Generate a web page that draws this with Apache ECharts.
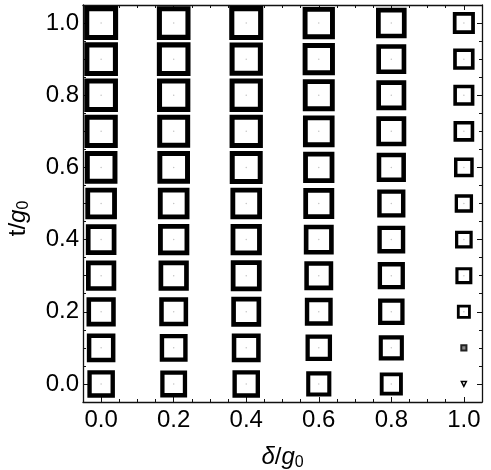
<!DOCTYPE html>
<html>
<head>
<meta charset="utf-8">
<script src="https://cdn.jsdelivr.net/npm/echarts@6/dist/echarts.min.js"></script>
<style>
html,body{margin:0;padding:0;background:#fff;}
#chart{width:491px;height:470px;}
</style>
</head>
<body>
<div id="chart"></div>
<script>
// ---- data ----
const deltaValues = [0.0, 0.2, 0.4, 0.6, 0.8, 1.0];
const tValues = [0.0, 0.1, 0.2, 0.3, 0.4, 0.5, 0.6, 0.7, 0.8, 0.9, 1.0];
const xTickLabels = [0.0, 0.2, 0.4, 0.6, 0.8, 1.0];
const yTickLabels = [0.0, 0.2, 0.4, 0.6, 0.8, 1.0];
// relative marker magnitude (largest = 1), listed for t = 0.0 ... 1.0
const magDelta00 = [0.81, 0.84, 0.86, 0.89, 0.90, 0.93, 0.96, 0.98, 0.99, 0.99, 1.00];
const magDelta02 = [0.79, 0.82, 0.85, 0.89, 0.92, 0.93, 0.96, 0.97, 0.98, 0.99, 0.99];
const magDelta04 = [0.81, 0.85, 0.88, 0.91, 0.92, 0.93, 0.97, 0.98, 0.98, 0.98, 1.00];
const magDelta06 = [0.74, 0.78, 0.82, 0.85, 0.88, 0.91, 0.92, 0.93, 0.94, 0.95, 0.95];
const magDelta08 = [0.68, 0.74, 0.78, 0.80, 0.82, 0.83, 0.86, 0.88, 0.88, 0.88, 0.90];
const magDelta10 = [0.19, 0.21, 0.41, 0.50, 0.52, 0.54, 0.58, 0.61, 0.62, 0.63, 0.65];
// marker kind at delta = 1.0 (others are all open squares)
const kindDelta10 = ['triangle', 'filled', 'square', 'square', 'square', 'square', 'square', 'square', 'square', 'square', 'square'];

// ---- build ----
const magColumns = [magDelta00, magDelta02, magDelta04, magDelta06, magDelta08, magDelta10];
const MAX_PX = 34;
const markers = [];
const dots = [];
deltaValues.forEach((d, i) => {
  tValues.forEach((t, j) => {
    const outer = magColumns[i][j] * MAX_PX;
    const kind = (i === deltaValues.length - 1) ? kindDelta10[j] : 'square';
    dots.push([d, t]);
    if (kind === 'triangle') {
      markers.push({ value: [d, t], symbol: 'triangle', symbolRotate: 180, symbolSize: outer - 1.5,
        itemStyle: { color: '#fff', borderColor: '#000', borderWidth: 1.5, opacity: 1 } });
    } else if (kind === 'filled') {
      markers.push({ value: [d, t], symbol: 'rect', symbolSize: outer - 2,
        itemStyle: { color: '#8a8a8a', borderColor: '#222', borderWidth: 2, opacity: 1 } });
    } else {
      const bw = 1.2 + 0.115 * outer;
      markers.push({ value: [d, t], symbol: 'rect', symbolSize: outer - bw,
        itemStyle: { color: 'rgba(0,0,0,0)', borderColor: '#000', borderWidth: bw, opacity: 1 } });
    }
  });
});

const FONT = 'Liberation Sans, Arial, sans-serif';
const AX = '#111';
const MIN = -0.05, MAX = 1.05;

function mainAxis(pos, labels, extra) {
  return Object.assign({
    type: 'value', position: pos, min: MIN, max: MAX, interval: 0.05,
    axisLine: { show: true, onZero: false, lineStyle: { color: AX, width: 1.3 } },
    axisTick: { show: true, inside: true, length: 5, customValues: labels, lineStyle: { color: AX, width: 1 } },
    axisLabel: { show: false },
    splitLine: { show: false }
  }, extra || {});
}
function minorAxis(pos) {
  return {
    type: 'value', position: pos, min: MIN, max: MAX, interval: 0.05,
    axisLine: { show: false, onZero: false },
    axisTick: { show: true, inside: true, length: 3, lineStyle: { color: AX, width: 1 } },
    axisLabel: { show: false },
    splitLine: { show: false }
  };
}
const richName = {
  i: { fontStyle: 'italic', fontSize: 24, fontFamily: FONT, color: '#000', lineHeight: 26 },
  n: { fontSize: 24, fontFamily: FONT, color: '#000', lineHeight: 26 },
  s: { fontSize: 16, fontFamily: FONT, color: '#000', lineHeight: 26, padding: [12, 0, 0, 0] }
};

const option = {
  animation: false,
  backgroundColor: '#fff',
  grid: { left: 83, right: 9, top: 5, bottom: 68, containLabel: false, outerBoundsMode: 'none' },
  xAxis: [
    mainAxis('bottom', xTickLabels, {
      axisLabel: { show: true, customValues: xTickLabels, margin: 6, color: '#000', fontSize: 24, fontFamily: FONT,
        formatter: v => Number(v).toFixed(1) },
      name: '{i|δ}{n|/}{i|g}{s|0}', nameLocation: 'middle', nameGap: 42,
      nameTextStyle: { rich: richName }
    }),
    minorAxis('bottom'),
    mainAxis('top', xTickLabels),
    minorAxis('top')
  ],
  yAxis: [
    mainAxis('left', yTickLabels, {
      axisLabel: { show: true, customValues: yTickLabels, margin: 4, color: '#000', fontSize: 24, fontFamily: FONT,
        formatter: v => Number(v).toFixed(1) },
      name: '{n|t/}{i|g}{s|0}', nameLocation: 'middle', nameGap: 52,
      nameTextStyle: { padding: [0, 30, 0, 0], rich: richName }
    }),
    minorAxis('left'),
    mainAxis('right', yTickLabels),
    minorAxis('right')
  ],
  series: [
    {
      type: 'scatter', xAxisIndex: 0, yAxisIndex: 0, data: dots,
      symbol: 'circle', symbolSize: 1.5, itemStyle: { color: '#c4c4c4', opacity: 1 }, silent: true, z: 1
    },
    {
      type: 'scatter', xAxisIndex: 0, yAxisIndex: 0, data: markers, silent: true, z: 2,
      itemStyle: { opacity: 1 }
    }
  ]
};

const chart = echarts.init(document.getElementById('chart'), null, { renderer: 'canvas' });
chart.setOption(option);
</script>
</body>
</html>
